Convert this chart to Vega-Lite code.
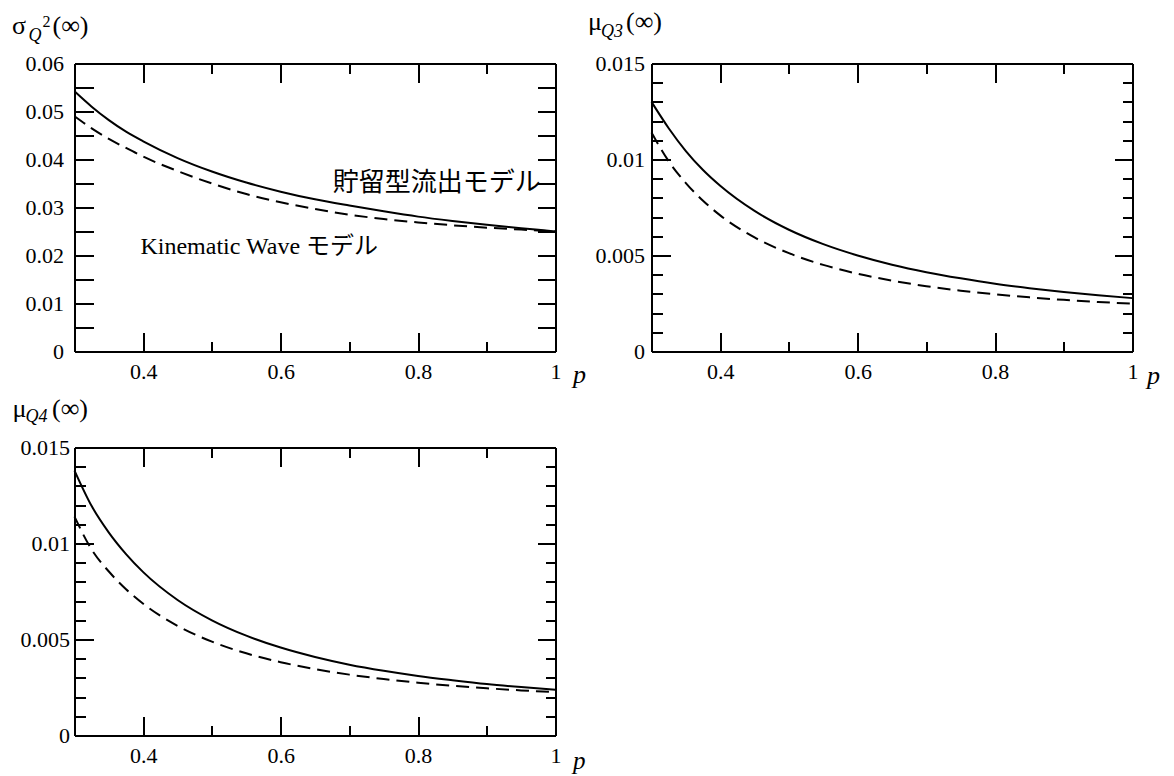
{
  "$schema": "https://vega.github.io/schema/vega-lite/v6.json",
  "background": "white",
  "padding": {"left": 11.5, "top": 8.5, "right": 0, "bottom": 0},
  "autosize": {"type": "pad"},
  "columns": 2,
  "spacing": 96,
  "bounds": "flush",
  "config": {
    "view": {"stroke": null},
    "font": "'Liberation Serif', 'Times New Roman', serif",
    "axis": {
      "domainColor": "black", "domainWidth": 2, "tickColor": "black", "tickWidth": 2,
      "labelFont": "'Liberation Serif', 'Times New Roman', serif", "labelFontSize": 22, "labelColor": "black",
      "labelFlush": false, "labelOverlap": false, "labelBound": false, "grid": false,
      "titleFont": "'Liberation Serif', 'Times New Roman', serif", "titleColor": "black", "titleFontWeight": "normal",
      "titleAngle": 0, "titleAlign": "left", "titleBaseline": "alphabetic", "titlePadding": 0
    }
  },
  "datasets": {
    "curves": [
      {"panel": "sigma2", "model": "storage", "p": 0.3, "value": 0.0542},
      {"panel": "sigma2", "model": "storage", "p": 0.325, "value": 0.0510},
      {"panel": "sigma2", "model": "storage", "p": 0.35, "value": 0.0482},
      {"panel": "sigma2", "model": "storage", "p": 0.375, "value": 0.0458},
      {"panel": "sigma2", "model": "storage", "p": 0.4, "value": 0.0438},
      {"panel": "sigma2", "model": "storage", "p": 0.45, "value": 0.0403},
      {"panel": "sigma2", "model": "storage", "p": 0.5, "value": 0.0375},
      {"panel": "sigma2", "model": "storage", "p": 0.55, "value": 0.0352},
      {"panel": "sigma2", "model": "storage", "p": 0.6, "value": 0.0333},
      {"panel": "sigma2", "model": "storage", "p": 0.65, "value": 0.0317},
      {"panel": "sigma2", "model": "storage", "p": 0.7, "value": 0.0304},
      {"panel": "sigma2", "model": "storage", "p": 0.75, "value": 0.0292},
      {"panel": "sigma2", "model": "storage", "p": 0.8, "value": 0.0281},
      {"panel": "sigma2", "model": "storage", "p": 0.85, "value": 0.0272},
      {"panel": "sigma2", "model": "storage", "p": 0.9, "value": 0.0264},
      {"panel": "sigma2", "model": "storage", "p": 0.95, "value": 0.0257},
      {"panel": "sigma2", "model": "storage", "p": 1.0, "value": 0.0250},
      {"panel": "sigma2", "model": "kw", "p": 0.3, "value": 0.0490},
      {"panel": "sigma2", "model": "kw", "p": 0.325, "value": 0.0465},
      {"panel": "sigma2", "model": "kw", "p": 0.35, "value": 0.0443},
      {"panel": "sigma2", "model": "kw", "p": 0.375, "value": 0.0424},
      {"panel": "sigma2", "model": "kw", "p": 0.4, "value": 0.0406},
      {"panel": "sigma2", "model": "kw", "p": 0.45, "value": 0.0376},
      {"panel": "sigma2", "model": "kw", "p": 0.5, "value": 0.0350},
      {"panel": "sigma2", "model": "kw", "p": 0.55, "value": 0.0328},
      {"panel": "sigma2", "model": "kw", "p": 0.6, "value": 0.0311},
      {"panel": "sigma2", "model": "kw", "p": 0.65, "value": 0.0297},
      {"panel": "sigma2", "model": "kw", "p": 0.7, "value": 0.0285},
      {"panel": "sigma2", "model": "kw", "p": 0.75, "value": 0.0276},
      {"panel": "sigma2", "model": "kw", "p": 0.8, "value": 0.0269},
      {"panel": "sigma2", "model": "kw", "p": 0.85, "value": 0.0263},
      {"panel": "sigma2", "model": "kw", "p": 0.9, "value": 0.0258},
      {"panel": "sigma2", "model": "kw", "p": 0.95, "value": 0.0254},
      {"panel": "sigma2", "model": "kw", "p": 1.0, "value": 0.0250},
      {"panel": "mu3", "model": "storage", "p": 0.3, "value": 0.0130},
      {"panel": "mu3", "model": "storage", "p": 0.325, "value": 0.01163},
      {"panel": "mu3", "model": "storage", "p": 0.35, "value": 0.01044},
      {"panel": "mu3", "model": "storage", "p": 0.375, "value": 0.00945},
      {"panel": "mu3", "model": "storage", "p": 0.4, "value": 0.00863},
      {"panel": "mu3", "model": "storage", "p": 0.45, "value": 0.00732},
      {"panel": "mu3", "model": "storage", "p": 0.5, "value": 0.00634},
      {"panel": "mu3", "model": "storage", "p": 0.55, "value": 0.00559},
      {"panel": "mu3", "model": "storage", "p": 0.6, "value": 0.00500},
      {"panel": "mu3", "model": "storage", "p": 0.65, "value": 0.00452},
      {"panel": "mu3", "model": "storage", "p": 0.7, "value": 0.00413},
      {"panel": "mu3", "model": "storage", "p": 0.75, "value": 0.00381},
      {"panel": "mu3", "model": "storage", "p": 0.8, "value": 0.00353},
      {"panel": "mu3", "model": "storage", "p": 0.85, "value": 0.00330},
      {"panel": "mu3", "model": "storage", "p": 0.9, "value": 0.00310},
      {"panel": "mu3", "model": "storage", "p": 0.95, "value": 0.00293},
      {"panel": "mu3", "model": "storage", "p": 1.0, "value": 0.00278},
      {"panel": "mu3", "model": "kw", "p": 0.3, "value": 0.0114},
      {"panel": "mu3", "model": "kw", "p": 0.325, "value": 0.00991},
      {"panel": "mu3", "model": "kw", "p": 0.35, "value": 0.00877},
      {"panel": "mu3", "model": "kw", "p": 0.375, "value": 0.00785},
      {"panel": "mu3", "model": "kw", "p": 0.4, "value": 0.00709},
      {"panel": "mu3", "model": "kw", "p": 0.45, "value": 0.00594},
      {"panel": "mu3", "model": "kw", "p": 0.5, "value": 0.00512},
      {"panel": "mu3", "model": "kw", "p": 0.55, "value": 0.00451},
      {"panel": "mu3", "model": "kw", "p": 0.6, "value": 0.00405},
      {"panel": "mu3", "model": "kw", "p": 0.65, "value": 0.00369},
      {"panel": "mu3", "model": "kw", "p": 0.7, "value": 0.00340},
      {"panel": "mu3", "model": "kw", "p": 0.75, "value": 0.00317},
      {"panel": "mu3", "model": "kw", "p": 0.8, "value": 0.00298},
      {"panel": "mu3", "model": "kw", "p": 0.85, "value": 0.00282},
      {"panel": "mu3", "model": "kw", "p": 0.9, "value": 0.00269},
      {"panel": "mu3", "model": "kw", "p": 0.95, "value": 0.00258},
      {"panel": "mu3", "model": "kw", "p": 1.0, "value": 0.00249},
      {"panel": "mu4", "model": "storage", "p": 0.3, "value": 0.0138},
      {"panel": "mu4", "model": "storage", "p": 0.325, "value": 0.01195},
      {"panel": "mu4", "model": "storage", "p": 0.35, "value": 0.01057},
      {"panel": "mu4", "model": "storage", "p": 0.375, "value": 0.00945},
      {"panel": "mu4", "model": "storage", "p": 0.4, "value": 0.00851},
      {"panel": "mu4", "model": "storage", "p": 0.45, "value": 0.00706},
      {"panel": "mu4", "model": "storage", "p": 0.5, "value": 0.00600},
      {"panel": "mu4", "model": "storage", "p": 0.55, "value": 0.00520},
      {"panel": "mu4", "model": "storage", "p": 0.6, "value": 0.00458},
      {"panel": "mu4", "model": "storage", "p": 0.65, "value": 0.00409},
      {"panel": "mu4", "model": "storage", "p": 0.7, "value": 0.00369},
      {"panel": "mu4", "model": "storage", "p": 0.75, "value": 0.00337},
      {"panel": "mu4", "model": "storage", "p": 0.8, "value": 0.00310},
      {"panel": "mu4", "model": "storage", "p": 0.85, "value": 0.00288},
      {"panel": "mu4", "model": "storage", "p": 0.9, "value": 0.00268},
      {"panel": "mu4", "model": "storage", "p": 0.95, "value": 0.00252},
      {"panel": "mu4", "model": "storage", "p": 1.0, "value": 0.00238},
      {"panel": "mu4", "model": "kw", "p": 0.3, "value": 0.0114},
      {"panel": "mu4", "model": "kw", "p": 0.325, "value": 0.00968},
      {"panel": "mu4", "model": "kw", "p": 0.35, "value": 0.00854},
      {"panel": "mu4", "model": "kw", "p": 0.375, "value": 0.00762},
      {"panel": "mu4", "model": "kw", "p": 0.4, "value": 0.00686},
      {"panel": "mu4", "model": "kw", "p": 0.45, "value": 0.00571},
      {"panel": "mu4", "model": "kw", "p": 0.5, "value": 0.00489},
      {"panel": "mu4", "model": "kw", "p": 0.55, "value": 0.00428},
      {"panel": "mu4", "model": "kw", "p": 0.6, "value": 0.00382},
      {"panel": "mu4", "model": "kw", "p": 0.65, "value": 0.00346},
      {"panel": "mu4", "model": "kw", "p": 0.7, "value": 0.00317},
      {"panel": "mu4", "model": "kw", "p": 0.75, "value": 0.00294},
      {"panel": "mu4", "model": "kw", "p": 0.8, "value": 0.00275},
      {"panel": "mu4", "model": "kw", "p": 0.85, "value": 0.00259},
      {"panel": "mu4", "model": "kw", "p": 0.9, "value": 0.00246},
      {"panel": "mu4", "model": "kw", "p": 0.95, "value": 0.00235},
      {"panel": "mu4", "model": "kw", "p": 1.0, "value": 0.00226}
    ],
    "notes": [
      {"id": "storage", "label": "貯留型流出モデル", "p": 0.676, "value": 0.0352},
      {"id": "kw", "label": "Kinematic Wave モデル", "p": 0.396, "value": 0.0217}
    ]
  },
  "concat": [
    {
      "width": 481, "height": 288,
      "resolve": {"axis": {"x": "independent", "y": "independent"}},
      "layer": [
        {
          "data": {"name": "curves"},
          "transform": [{"filter": "datum.panel === 'sigma2' && datum.model === 'storage'"}],
          "mark": {"type": "line", "color": "black", "strokeWidth": 2, "interpolate": "monotone"},
          "encoding": {
            "x": {"field": "p", "type": "quantitative", "scale": {"domain": [0.3, 1], "nice": false, "zero": false},
              "axis": {"orient": "bottom", "values": [0.4, 0.6, 0.8, 1], "labelExpr": "format(datum.value, '.3~f')", "tickSize": -19, "labelPadding": 29,
                "title": "p", "titleFontStyle": "italic", "titleFontSize": 26, "titleX": 498, "titleY": 31}},
            "y": {"field": "value", "type": "quantitative", "scale": {"domain": [0, 0.06], "nice": false, "zero": false},
              "axis": {"orient": "left", "values": [0, 0.01, 0.02, 0.03, 0.04, 0.05, 0.06], "labelExpr": "format(datum.value, '.3~f')", "tickSize": -19, "labelPadding": 30,
                "title": "σ", "titleFontSize": 26, "titleX": -63, "titleY": -30.5}}
          }
        },
        {
          "data": {"name": "curves"},
          "transform": [{"filter": "datum.panel === 'sigma2' && datum.model === 'kw'"}],
          "mark": {"type": "line", "color": "black", "strokeWidth": 2, "strokeDash": [13, 7], "interpolate": "monotone"},
          "encoding": {
            "x": {"field": "p", "type": "quantitative", "scale": {"domain": [0.3, 1], "nice": false, "zero": false},
              "axis": {"orient": "top", "values": [0.4, 0.6, 0.8, 1], "labels": false, "tickSize": -19, "title": null}},
            "y": {"field": "value", "type": "quantitative", "scale": {"domain": [0, 0.06], "nice": false, "zero": false},
              "axis": {"orient": "right", "values": [0, 0.01, 0.02, 0.03, 0.04, 0.05, 0.06], "labels": false, "tickSize": -18,
                "title": "2", "titleFontSize": 16, "titleX": -513.5, "titleY": -37.5}}
          }
        },
        {
          "data": {"name": "curves"},
          "transform": [{"filter": "datum.panel === 'sigma2' && datum.model === 'kw'"}],
          "mark": {"type": "line", "opacity": 0},
          "encoding": {
            "x": {"field": "p", "type": "quantitative", "scale": {"domain": [0.3, 1], "nice": false, "zero": false},
              "axis": {"orient": "bottom", "values": [0.5, 0.7, 0.9], "labels": false, "domain": false, "tickSize": -10, "title": null}},
            "y": {"field": "value", "type": "quantitative", "scale": {"domain": [0, 0.06], "nice": false, "zero": false},
              "axis": {"orient": "left", "values": [0.005, 0.015, 0.025, 0.035, 0.045, 0.055], "labels": false, "domain": false, "tickSize": -19,
                "title": "Q", "titleFontStyle": "italic", "titleFontSize": 18, "titleX": -46.5, "titleY": -23.5}}
          }
        },
        {
          "data": {"name": "curves"},
          "transform": [{"filter": "datum.panel === 'sigma2' && datum.model === 'kw'"}],
          "mark": {"type": "line", "opacity": 0},
          "encoding": {
            "x": {"field": "p", "type": "quantitative", "scale": {"domain": [0.3, 1], "nice": false, "zero": false},
              "axis": {"orient": "top", "values": [0.5, 0.7, 0.9], "labels": false, "domain": false, "tickSize": -10, "title": null}},
            "y": {"field": "value", "type": "quantitative", "scale": {"domain": [0, 0.06], "nice": false, "zero": false},
              "axis": {"orient": "right", "values": [0.005, 0.015, 0.025, 0.035, 0.045, 0.055], "labels": false, "domain": false, "tickSize": -18,
                "title": "(∞)", "titleFontSize": 26, "titleX": -503.5, "titleY": -30.5}}
          }
        },
        {
          "data": {"name": "notes"},
          "transform": [{"filter": "datum.id === 'storage'"}],
          "mark": {"type": "text", "font": "'Noto Sans CJK JP', sans-serif", "fontSize": 26, "align": "left", "baseline": "middle", "color": "black"},
          "encoding": {
            "x": {"field": "p", "type": "quantitative", "scale": {"domain": [0.3, 1], "nice": false, "zero": false}, "axis": null},
            "y": {"field": "value", "type": "quantitative", "scale": {"domain": [0, 0.06], "nice": false, "zero": false}, "axis": null},
            "text": {"field": "label"}
          }
        },
        {
          "data": {"name": "notes"},
          "transform": [{"filter": "datum.id === 'kw'"}],
          "mark": {"type": "text", "font": "'Liberation Serif', 'Times New Roman', 'Noto Sans CJK JP', serif", "fontSize": 24, "align": "left", "baseline": "middle", "color": "black"},
          "encoding": {
            "x": {"field": "p", "type": "quantitative", "scale": {"domain": [0.3, 1], "nice": false, "zero": false}, "axis": null},
            "y": {"field": "value", "type": "quantitative", "scale": {"domain": [0, 0.06], "nice": false, "zero": false}, "axis": null},
            "text": {"field": "label"}
          }
        }
      ]
    },
    {
      "width": 481, "height": 288,
      "resolve": {"axis": {"x": "independent", "y": "independent"}},
      "layer": [
        {
          "data": {"name": "curves"},
          "transform": [{"filter": "datum.panel === 'mu3' && datum.model === 'storage'"}],
          "mark": {"type": "line", "color": "black", "strokeWidth": 2, "interpolate": "monotone"},
          "encoding": {
            "x": {"field": "p", "type": "quantitative", "scale": {"domain": [0.3, 1], "nice": false, "zero": false},
              "axis": {"orient": "bottom", "values": [0.4, 0.6, 0.8, 1], "labelExpr": "format(datum.value, '.3~f')", "tickSize": -19, "labelPadding": 29,
                "title": "p", "titleFontStyle": "italic", "titleFontSize": 26, "titleX": 495, "titleY": 32}},
            "y": {"field": "value", "type": "quantitative", "scale": {"domain": [0, 0.015], "nice": false, "zero": false},
              "axis": {"orient": "left", "values": [0, 0.005, 0.01, 0.015], "labelExpr": "format(datum.value, '.3~f')", "tickSize": -19, "labelPadding": 26,
                "title": "μ", "titleFontSize": 26, "titleX": -64, "titleY": -34}}
          }
        },
        {
          "data": {"name": "curves"},
          "transform": [{"filter": "datum.panel === 'mu3' && datum.model === 'kw'"}],
          "mark": {"type": "line", "color": "black", "strokeWidth": 2, "strokeDash": [13, 7], "interpolate": "monotone"},
          "encoding": {
            "x": {"field": "p", "type": "quantitative", "scale": {"domain": [0.3, 1], "nice": false, "zero": false},
              "axis": {"orient": "top", "values": [0.4, 0.6, 0.8, 1], "labels": false, "tickSize": -19, "title": null}},
            "y": {"field": "value", "type": "quantitative", "scale": {"domain": [0, 0.015], "nice": false, "zero": false},
              "axis": {"orient": "right", "values": [0, 0.005, 0.01, 0.015], "labels": false, "tickSize": -18, "title": null}}
          }
        },
        {
          "data": {"name": "curves"},
          "transform": [{"filter": "datum.panel === 'mu3' && datum.model === 'kw'"}],
          "mark": {"type": "line", "opacity": 0},
          "encoding": {
            "x": {"field": "p", "type": "quantitative", "scale": {"domain": [0.3, 1], "nice": false, "zero": false},
              "axis": {"orient": "bottom", "values": [0.5, 0.7, 0.9], "labels": false, "domain": false, "tickSize": -10, "title": null}},
            "y": {"field": "value", "type": "quantitative", "scale": {"domain": [0, 0.015], "nice": false, "zero": false},
              "axis": {"orient": "left", "values": [0.001, 0.002, 0.003, 0.004, 0.006, 0.007, 0.008, 0.009, 0.011, 0.012, 0.013, 0.014], "labels": false, "domain": false, "tickSize": -11,
                "title": "Q3", "titleFontStyle": "italic", "titleFontSize": 18, "titleX": -51, "titleY": -27}}
          }
        },
        {
          "data": {"name": "curves"},
          "transform": [{"filter": "datum.panel === 'mu3' && datum.model === 'kw'"}],
          "mark": {"type": "line", "opacity": 0},
          "encoding": {
            "x": {"field": "p", "type": "quantitative", "scale": {"domain": [0.3, 1], "nice": false, "zero": false},
              "axis": {"orient": "top", "values": [0.5, 0.7, 0.9], "labels": false, "domain": false, "tickSize": -10, "title": null}},
            "y": {"field": "value", "type": "quantitative", "scale": {"domain": [0, 0.015], "nice": false, "zero": false},
              "axis": {"orient": "right", "values": [0.001, 0.002, 0.003, 0.004, 0.006, 0.007, 0.008, 0.009, 0.011, 0.012, 0.013, 0.014], "labels": false, "domain": false, "tickSize": -10,
                "title": "(∞)", "titleFontSize": 26, "titleX": -507, "titleY": -34}}
          }
        }
      ]
    },
    {
      "width": 481, "height": 288,
      "resolve": {"axis": {"x": "independent", "y": "independent"}},
      "layer": [
        {
          "data": {"name": "curves"},
          "transform": [{"filter": "datum.panel === 'mu4' && datum.model === 'storage'"}],
          "mark": {"type": "line", "color": "black", "strokeWidth": 2, "interpolate": "monotone"},
          "encoding": {
            "x": {"field": "p", "type": "quantitative", "scale": {"domain": [0.3, 1], "nice": false, "zero": false},
              "axis": {"orient": "bottom", "values": [0.4, 0.6, 0.8, 1], "labelExpr": "format(datum.value, '.3~f')", "tickSize": -19, "labelPadding": 29,
                "title": "p", "titleFontStyle": "italic", "titleFontSize": 25, "titleX": 498, "titleY": 33}},
            "y": {"field": "value", "type": "quantitative", "scale": {"domain": [0, 0.015], "nice": false, "zero": false},
              "axis": {"orient": "left", "values": [0, 0.005, 0.01, 0.015], "labelExpr": "format(datum.value, '.3~f')", "tickSize": -19, "labelPadding": 24,
                "title": "μ", "titleFontSize": 26, "titleX": -62.5, "titleY": -31.5}}
          }
        },
        {
          "data": {"name": "curves"},
          "transform": [{"filter": "datum.panel === 'mu4' && datum.model === 'kw'"}],
          "mark": {"type": "line", "color": "black", "strokeWidth": 2, "strokeDash": [13, 7], "interpolate": "monotone"},
          "encoding": {
            "x": {"field": "p", "type": "quantitative", "scale": {"domain": [0.3, 1], "nice": false, "zero": false},
              "axis": {"orient": "top", "values": [0.4, 0.6, 0.8, 1], "labels": false, "tickSize": -19, "title": null}},
            "y": {"field": "value", "type": "quantitative", "scale": {"domain": [0, 0.015], "nice": false, "zero": false},
              "axis": {"orient": "right", "values": [0, 0.005, 0.01, 0.015], "labels": false, "tickSize": -18, "title": null}}
          }
        },
        {
          "data": {"name": "curves"},
          "transform": [{"filter": "datum.panel === 'mu4' && datum.model === 'kw'"}],
          "mark": {"type": "line", "opacity": 0},
          "encoding": {
            "x": {"field": "p", "type": "quantitative", "scale": {"domain": [0.3, 1], "nice": false, "zero": false},
              "axis": {"orient": "bottom", "values": [0.5, 0.7, 0.9], "labels": false, "domain": false, "tickSize": -10, "title": null}},
            "y": {"field": "value", "type": "quantitative", "scale": {"domain": [0, 0.015], "nice": false, "zero": false},
              "axis": {"orient": "left", "values": [0.001, 0.002, 0.003, 0.004, 0.006, 0.007, 0.008, 0.009, 0.011, 0.012, 0.013, 0.014], "labels": false, "domain": false, "tickSize": -11,
                "title": "Q4", "titleFontStyle": "italic", "titleFontSize": 18, "titleX": -49.5, "titleY": -26}}
          }
        },
        {
          "data": {"name": "curves"},
          "transform": [{"filter": "datum.panel === 'mu4' && datum.model === 'kw'"}],
          "mark": {"type": "line", "opacity": 0},
          "encoding": {
            "x": {"field": "p", "type": "quantitative", "scale": {"domain": [0.3, 1], "nice": false, "zero": false},
              "axis": {"orient": "top", "values": [0.5, 0.7, 0.9], "labels": false, "domain": false, "tickSize": -10, "title": null}},
            "y": {"field": "value", "type": "quantitative", "scale": {"domain": [0, 0.015], "nice": false, "zero": false},
              "axis": {"orient": "right", "values": [0.001, 0.002, 0.003, 0.004, 0.006, 0.007, 0.008, 0.009, 0.011, 0.012, 0.013, 0.014], "labels": false, "domain": false, "tickSize": -10,
                "title": "(∞)", "titleFontSize": 26, "titleX": -504, "titleY": -31.5}}
          }
        }
      ]
    }
  ]
}
